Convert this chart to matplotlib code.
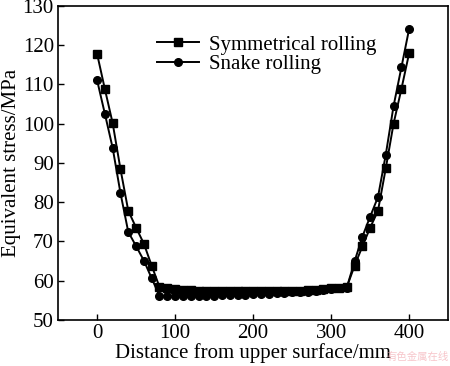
import matplotlib.pyplot as plt
import numpy as np

plt.rcParams['font.family'] = ['Liberation Serif', 'DejaVu Serif']
plt.rcParams['mathtext.fontset'] = 'stix'

distance = [0, 10, 20, 30, 40, 50, 60, 70, 80, 90, 100, 110, 120, 130, 140, 150, 160, 170, 180, 190, 200,
            210, 220, 230, 240, 250, 260, 270, 280, 290, 300, 310, 320, 330, 340, 350, 360, 370, 380, 390, 400]

symmetrical = [117.8, 108.8, 100.1, 88.4, 77.8, 73.5, 69.4, 63.8, 58.4, 58.2, 57.9, 57.7, 57.5, 57.4, 57.3,
               57.3, 57.3, 57.3, 57.3, 57.3, 57.3, 57.3, 57.3, 57.3, 57.3, 57.3, 57.4, 57.5, 57.6, 57.8,
               58.0, 58.1, 58.3, 63.8, 68.7, 73.5, 77.8, 88.6, 100.0, 108.8, 118.0]

snake = [111.1, 102.5, 93.8, 82.3, 72.4, 68.8, 65.1, 60.6, 56.1, 56.0, 56.0, 56.0, 56.1, 56.1, 56.2, 56.2,
         56.3, 56.3, 56.4, 56.4, 56.5, 56.6, 56.7, 56.8, 56.9, 57.0, 57.1, 57.2, 57.4, 57.6, 57.8, 58.0,
         58.2, 64.9, 71.2, 76.3, 81.3, 92.1, 104.5, 114.3, 124.2]

legend_labels = ['Symmetrical rolling', 'Snake rolling']

fig = plt.figure(figsize=(4.5, 3.66), dpi=100)
ax = fig.add_axes([0.129, 0.126, 0.867, 0.858])

ax.plot(distance, symmetrical, color='black', lw=1.4, marker='s', ms=5.5, label=legend_labels[0])
ax.plot(distance, snake, color='black', lw=1.4, marker='o', ms=5.5, label=legend_labels[1])

ax.set_xlim(-50, 450)
ax.set_ylim(50, 130)
ax.set_xticks([0, 100, 200, 300, 400])
ax.set_yticks(np.arange(50, 131, 10))
ax.tick_params(direction='in', labelsize=15, length=4, width=1, top=False, right=False, pad=3)
for s in ax.spines.values():
    s.set_linewidth(1.2)

ax.set_xlabel('Distance from upper surface/mm', fontsize=15, labelpad=0)
ax.set_ylabel('Equivalent stress/MPa', fontsize=15, labelpad=1)

ax.legend(loc='upper left', bbox_to_anchor=(0.222, 0.947), frameon=False, fontsize=15,
          handlelength=2.0, handletextpad=0.5, labelspacing=0.0, borderaxespad=0.2)

# faint site watermark in the lower-right corner
fig.text(0.997, 0.012, '有色金属在线', color='#f2a0a8', alpha=0.6, fontsize=7.5, ha='right', va='bottom',
         family=['Noto Sans CJK SC', 'DejaVu Sans'])

fig.savefig('out.png', dpi=100)
